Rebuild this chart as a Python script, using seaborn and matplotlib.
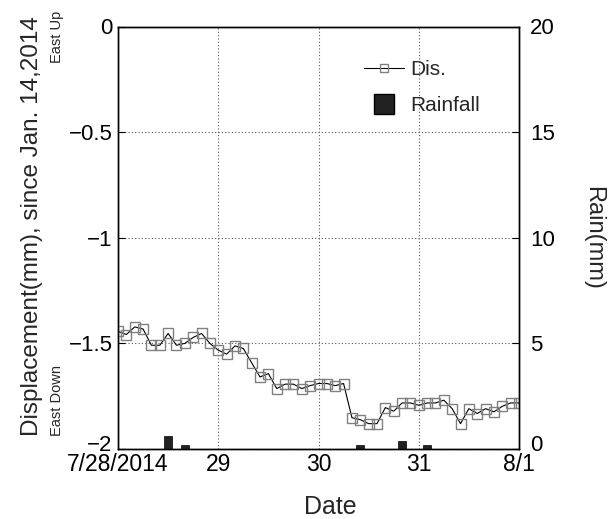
import numpy as np
import pandas as pd
import matplotlib
matplotlib.use("Agg")
import matplotlib.pyplot as plt
import matplotlib.transforms as mtransforms
from matplotlib.lines import Line2D
import seaborn as sns

# ---- data ----
start = "2014-07-28 00:00"
n_points = 49
displacement = [
    -1.443, -1.458, -1.422, -1.432, -1.509, -1.509, -1.453, -1.509, -1.500, -1.472,
    -1.453, -1.500, -1.532, -1.551, -1.512, -1.524, -1.592, -1.659, -1.643, -1.714,
    -1.693, -1.693, -1.714, -1.700, -1.690, -1.690, -1.700, -1.690, -1.852, -1.861,
    -1.880, -1.880, -1.804, -1.821, -1.782, -1.782, -1.793, -1.782, -1.782, -1.769,
    -1.809, -1.880, -1.809, -1.832, -1.809, -1.824, -1.798, -1.782, -1.782,
]
rain_index = [6, 8, 29, 34, 37]
rain_mm = [0.6, 0.2, 0.2, 0.4, 0.2]
xtick_dates = ["2014-07-28", "2014-07-29", "2014-07-30", "2014-07-31", "2014-08-01"]
xtick_labels = ["7/28/2014", "29", "30", "31", "8/1"]
yticks_left = [0, -0.5, -1, -1.5, -2]
ytick_left_labels = ["0", "\u22120.5", "\u22121", "\u22121.5", "\u22122"]
yticks_right = [0, 5, 10, 15, 20]

times = pd.date_range(start, periods=n_points, freq="2h")
df = pd.DataFrame({"time": times, "dis": displacement})
rain_times = times[rain_index]

sns.set_style("white")
plt.rcParams["font.family"] = ["Liberation Sans", "DejaVu Sans"]

fig = plt.figure(figsize=(6.11, 5.19), dpi=100)
ax = fig.add_axes([118 / 611, 1 - 449 / 519, 401 / 611, 422.5 / 519])
ax2 = ax.twinx()

sns.lineplot(data=df, x="time", y="dis", ax=ax, color="black", linewidth=0.8,
             marker="s", markersize=6.5, markerfacecolor="none",
             markeredgecolor="#808080", markeredgewidth=1.0, zorder=3)

ax2.bar(rain_times, rain_mm, width=0.08, color="#222222", edgecolor="black",
        linewidth=0.5, align="center")

xt = pd.to_datetime(xtick_dates)
ax.set_xlim(xt[0], xt[-1])
ax.set_ylim(-2, 0)
ax2.set_ylim(0, 20)
ax.set_xticks(xt)
ax.set_xticklabels(xtick_labels, fontsize=16.5)
ax.set_yticks(yticks_left)
ax.set_yticklabels(ytick_left_labels, fontsize=16)
ax2.set_yticks(yticks_right)
ax2.set_yticklabels([str(v) for v in yticks_right], fontsize=16)

ax.grid(True, color="#555555", linestyle=(0, (1, 2)), linewidth=0.8)
ax2.grid(False)
ax.tick_params(direction="in", length=5, width=0.8, pad=4, colors="black")
ax2.tick_params(direction="in", length=5, width=0.8, pad=8, colors="black")
ax.tick_params(axis="x", pad=3)
for a in (ax, ax2):
    for s in a.spines.values():
        s.set_color("black")
        s.set_linewidth(1.0)

# raise the bottom y tick labels slightly, as in the reference
shift_up = mtransforms.ScaledTranslation(0, 6 / 100, fig.dpi_scale_trans)
fig.canvas.draw()
for lab in ax.get_yticklabels():
    if lab.get_text() == "\u22122":
        lab.set_transform(lab.get_transform() + shift_up)
for lab in ax2.get_yticklabels():
    if lab.get_text() == "0":
        lab.set_transform(lab.get_transform() + shift_up)

ax.set_xlabel("Date", fontsize=18)
ax.xaxis.label.set_va("center")
ax.xaxis.set_label_coords(0.529, -0.137)
ax.set_ylabel("Displacement(mm), since Jan. 14,2014", fontsize=17.5)
ax.yaxis.label.set_va("center")
ax.yaxis.set_label_coords(-0.215, 0.528)
ax2.set_ylabel("Rain(mm)", fontsize=17, rotation=270)
ax2.yaxis.label.set_va("center")
ax2.yaxis.set_label_coords(1.185, 0.5)

fig.text(57 / 611, 1 - 37 / 519, "East Up", rotation=90, fontsize=10.5,
         ha="center", va="center")
fig.text(57 / 611, 1 - 400 / 519, "East Down", rotation=90, fontsize=10.5,
         ha="center", va="center")

handles = [
    Line2D([], [], color="black", linewidth=0.8, marker="s", markersize=6,
           markerfacecolor="none", markeredgecolor="#808080"),
    Line2D([], [], linestyle="none", marker="s", markersize=14,
           markerfacecolor="#222222", markeredgecolor="black"),
]
ax2.legend(handles, ["Dis.", "Rainfall"], loc="upper left",
           bbox_to_anchor=(0.593, 0.94), frameon=False, fontsize=15,
           handlelength=1.9, handletextpad=0.3, labelspacing=0.8,
           borderaxespad=0)

fig.savefig("out.png", dpi=100)
